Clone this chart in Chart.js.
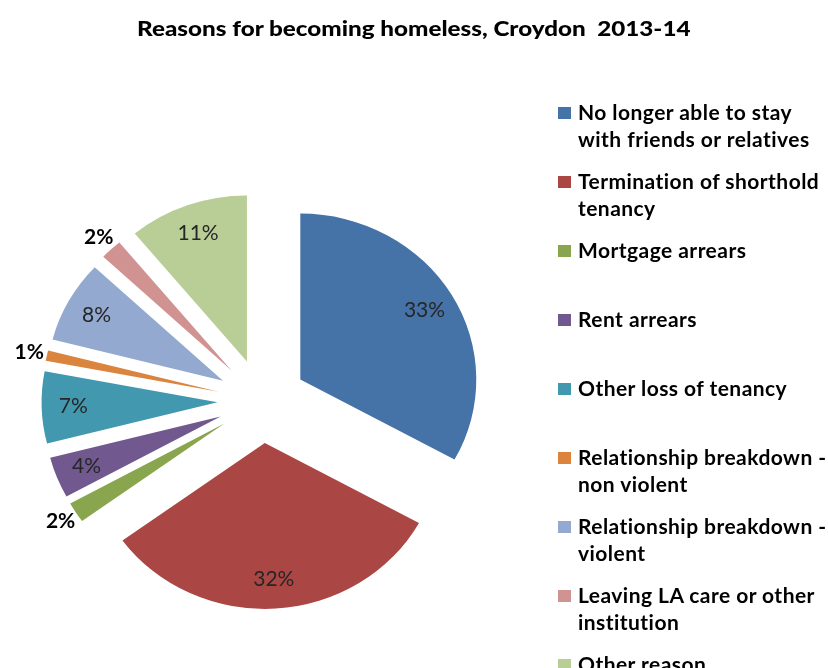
<!DOCTYPE html>
<html>
<head>
<meta charset="utf-8">
<title>Reasons for becoming homeless, Croydon 2013-14</title>
<script src="https://cdn.jsdelivr.net/npm/chart.js@4.4.0/dist/chart.umd.min.js"></script>
<style>
  html, body { margin: 0; padding: 0; background: #fff; }
  body { width: 828px; height: 668px; position: relative; overflow: hidden; font-family: Lato, "Noto Sans", sans-serif; }
  #pie { position: absolute; left: 0; top: 0; }
  #title { position: absolute; left: 0; top: 16px; width: 828px; text-align: center; white-space: pre;
           font-weight: 900; font-size: 20px; line-height: 24px; color: #000;
           transform: scaleX(1.21); transform-origin: 415px 50%; }
  #legend { position: absolute; left: 558px; top: 98px; }
  .item { position: relative; height: 69px; }
  .swatch { position: absolute; left: 0; top: 9px; width: 13px; height: 12px; }
  .text { position: absolute; left: 20px; top: 0; white-space: nowrap; font-weight: bold;
          font-size: 21px; line-height: 27px; letter-spacing: 0.45px; color: #000; }
</style>
</head>
<body>
<canvas id="pie" width="828" height="668"></canvas>
<div id="title">Reasons for becoming homeless, Croydon  2013-14</div>
<div id="legend"></div>
<script>
// reasons (one entry per legend line) and their share of cases, %
const categories = [
  ["No longer able to stay", "with friends or relatives"],
  ["Termination of shorthold", "tenancy"],
  ["Mortgage arrears"],
  ["Rent arrears"],
  ["Other loss of tenancy"],
  ["Relationship breakdown -", "non violent"],
  ["Relationship breakdown -", "violent"],
  ["Leaving LA care or other", "institution"],
  ["Other reason"]
];
const shares = [33, 32, 2, 4, 7, 1, 8, 2, 11];
const sliceColours = ["#4572A7", "#AA4643", "#89A54E", "#71588F", "#4198AF", "#DB843D", "#93A9CF", "#D19392", "#B9CD96"];

const EXPLODE = 42;      // how far every slice is pulled out from the centre
const STRETCH_X = 1.06;  // pie is a little wider than it is tall
const SMALL_SHARE = 3;   // slices below this get their label outside

// pull each slice out along its middle angle, then let the arc draw itself
const explodedSlices = {
  id: "explodedSlices",
  beforeDatasetDraw(chart, args) {
    const ctx = chart.ctx;
    args.meta.data.forEach(arc => {
      const mid = (arc.startAngle + arc.endAngle) / 2;
      ctx.save();
      ctx.translate(arc.x + Math.cos(mid) * EXPLODE * STRETCH_X, arc.y + Math.sin(mid) * EXPLODE);
      ctx.scale(STRETCH_X, 1);
      ctx.translate(-arc.x, -arc.y);
      arc.draw(ctx);
      ctx.restore();
    });
    return false;
  }
};

// percentage labels, inside big slices, outside the thin ones
const sliceLabels = {
  id: "sliceLabels",
  afterDatasetsDraw(chart) {
    const ctx = chart.ctx;
    chart.getDatasetMeta(0).data.forEach((arc, i) => {
      const v = shares[i];
      const outside = v < SMALL_SHARE;
      const mid = (arc.startAngle + arc.endAngle) / 2;
      const r = EXPLODE + (outside ? arc.outerRadius + 17 : arc.outerRadius * 0.82);
      ctx.save();
      ctx.font = (outside ? "bold " : "") + "21px Lato";
      ctx.fillStyle = outside ? "#000" : "#262626";
      ctx.textAlign = "center";
      ctx.textBaseline = "middle";
      ctx.fillText(v + "%", arc.x + Math.cos(mid) * r * STRETCH_X, arc.y + Math.sin(mid) * r);
      ctx.restore();
    });
  }
};

function buildLegend() {
  const box = document.getElementById("legend");
  categories.forEach((lines, i) => {
    const item = document.createElement("div");
    item.className = "item";
    const sw = document.createElement("span");
    sw.className = "swatch";
    sw.style.background = sliceColours[i];
    const txt = document.createElement("span");
    txt.className = "text";
    txt.innerHTML = lines.join("<br>");
    item.appendChild(sw);
    item.appendChild(txt);
    box.appendChild(item);
  });
}

new Chart(document.getElementById("pie"), {
  type: "pie",
  data: {
    labels: categories,
    datasets: [{
      data: shares,
      backgroundColor: sliceColours,
      borderWidth: 0,
      radius: 166
    }]
  },
  options: {
    responsive: false,
    animation: false,
    events: [],
    layout: { padding: { left: 0, right: 304, top: 134, bottom: 0 } },
    plugins: {
      legend: { display: false },
      tooltip: { enabled: false }
    }
  },
  plugins: [explodedSlices, sliceLabels]
});

buildLegend();
</script>
</body>
</html>
